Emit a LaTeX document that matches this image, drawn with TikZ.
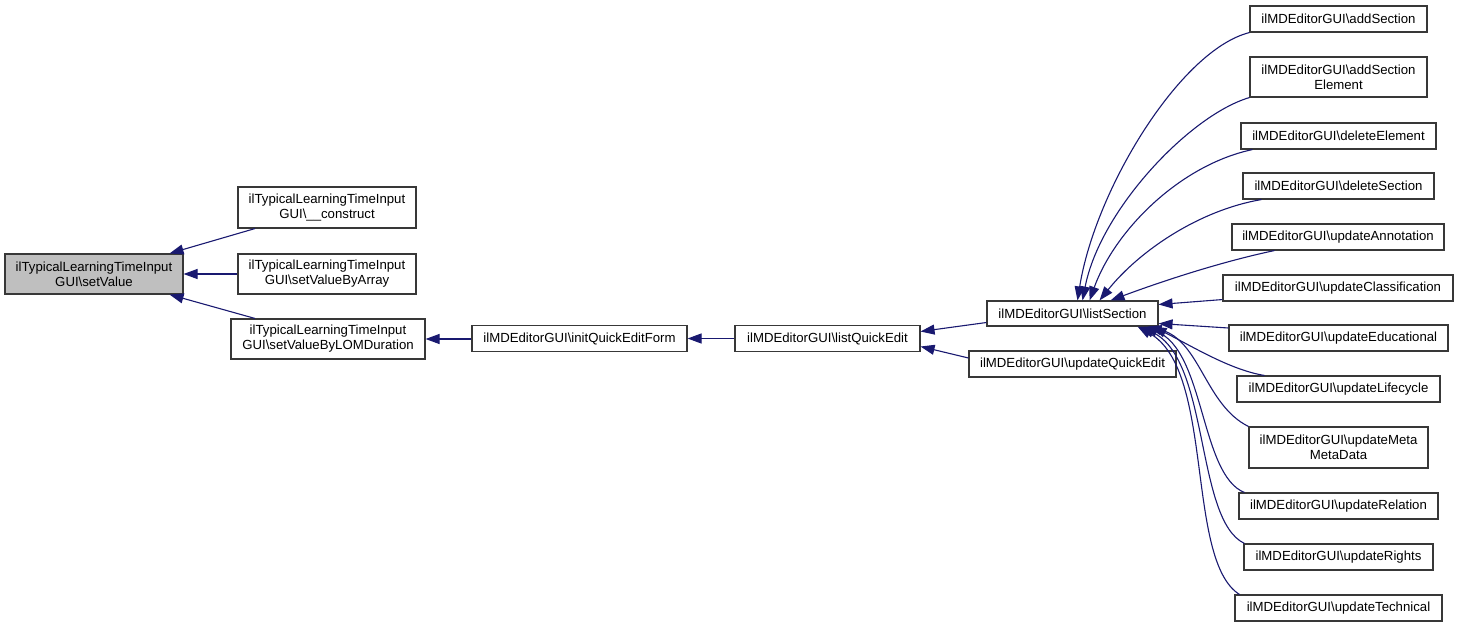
\documentclass[tikz,border=0pt]{standalone}
\usepackage{fontspec}
\setmainfont{Liberation Sans}
\usetikzlibrary{arrows.meta}
\definecolor{edgeblue}{RGB}{25,25,112}
\definecolor{selgray}{RGB}{191,191,191}
\tikzset{
  box/.style={draw=black!78, line width=1.1pt, fill=white, inner sep=0pt, align=center,
    font=\fontsize{13.2}{15}\selectfont},
  edge/.style={draw=edgeblue, line width=1.1pt, arrows={Triangle[length=14pt,width=10pt,fill=edgeblue]-}},
}
\newcommand{\bs}{\textbackslash}
\begin{document}
\begin{tikzpicture}[x=1pt,y=-1pt]
\useasboundingbox (0,0) rectangle (1459,627);
% left part
\node[box, fill=selgray, minimum width=178pt, minimum height=40pt] (sv) at (94,274) {ilTypicalLearningTimeInput\\GUI\bs setValue};
\node[box, minimum width=178pt, minimum height=41pt] (con) at (327,207.5) {ilTypicalLearningTimeInput\\GUI\bs\_\_construct};
\node[box, minimum width=178pt, minimum height=40pt] (arr) at (327,274) {ilTypicalLearningTimeInput\\GUI\bs setValueByArray};
\node[box, minimum width=194pt, minimum height=40pt] (lom) at (328,339) {ilTypicalLearningTimeInput\\GUI\bs setValueByLOMDuration};
\node[box, minimum width=215pt, minimum height=26pt] (iqef) at (579.5,338.5) {ilMDEditorGUI\bs initQuickEditForm};
\node[box, minimum width=185pt, minimum height=26pt] (lqe) at (827.5,338.5) {ilMDEditorGUI\bs listQuickEdit};
\node[box, minimum width=171pt, minimum height=25pt] (ls) at (1072.5,313.5) {ilMDEditorGUI\bs listSection};
\node[box, minimum width=207pt, minimum height=26pt] (uqe) at (1072.5,364) {ilMDEditorGUI\bs updateQuickEdit};
% right column
\node[box, minimum width=177pt, minimum height=26pt] (as) at (1338.5,19) {ilMDEditorGUI\bs addSection};
\node[box, minimum width=177pt, minimum height=40pt] (ase) at (1338.5,77) {ilMDEditorGUI\bs addSection\\Element};
\node[box, minimum width=195pt, minimum height=26pt] (de) at (1338.5,136) {ilMDEditorGUI\bs deleteElement};
\node[box, minimum width=191pt, minimum height=26pt] (ds) at (1338.5,186) {ilMDEditorGUI\bs deleteSection};
\node[box, minimum width=212pt, minimum height=26pt] (ua) at (1338,237) {ilMDEditorGUI\bs updateAnnotation};
\node[box, minimum width=230pt, minimum height=26pt] (uc) at (1338,288) {ilMDEditorGUI\bs updateClassification};
\node[box, minimum width=219pt, minimum height=26pt] (ue) at (1338.5,338) {ilMDEditorGUI\bs updateEducational};
\node[box, minimum width=203pt, minimum height=26pt] (ul) at (1338.5,389) {ilMDEditorGUI\bs updateLifecycle};
\node[box, minimum width=179pt, minimum height=41pt] (um) at (1338.5,447.5) {ilMDEditorGUI\bs updateMeta\\MetaData};
\node[box, minimum width=199pt, minimum height=26pt] (ur) at (1338.5,506) {ilMDEditorGUI\bs updateRelation};
\node[box, minimum width=189pt, minimum height=26pt] (urt) at (1338.5,557) {ilMDEditorGUI\bs updateRights};
\node[box, minimum width=207pt, minimum height=26pt] (ut) at (1338.5,608) {ilMDEditorGUI\bs updateTechnical};
% edges left
\draw[edge] ([xshift=-14pt]sv.north east) -- ([xshift=-72pt]con.south);
\draw[edge] (sv.east) -- (arr.west);
\draw[edge] ([xshift=-14pt]sv.south east) -- ([xshift=-73pt]lom.north);
\draw[edge] (lom.east) -- (lom.east -| iqef.west);
\draw[edge] (iqef.east) -- (lqe.west);
\draw[edge] ([yshift=7pt]lqe.east) -- ([yshift=-9pt]ls.west);
\draw[edge] ([yshift=-8pt]lqe.east) -- ([yshift=6pt]uqe.west);
% edges to listSection, upper
\draw[edge] ([xshift=5pt]ls.north) .. controls (1095,190) and (1180,50) .. (as.south west);
\draw[edge] ([xshift=10pt]ls.north) .. controls (1100,210) and (1190,115) .. (ase.south west);
\draw[edge] ([xshift=17pt]ls.north) .. controls (1115,230) and (1180,165) .. ([xshift=12pt]de.south west);
\draw[edge] ([xshift=27pt]ls.north) .. controls (1140,250) and (1200,210) .. ([xshift=19pt]ds.south west);
\draw[edge] ([xshift=38pt]ls.north) .. controls (1160,282) and (1220,262) .. ([xshift=43pt]ua.south west);
\draw[edge] ([yshift=9pt]ls.east) -- ([yshift=2pt]uc.south west);
\draw[edge] ([yshift=-10pt]ls.east) -- ([yshift=10pt]ue.west);
% lower
\draw[edge] ([xshift=-6pt]ls.south east) .. controls (1190,345) and (1230,370) .. ([xshift=28pt]ul.north west);
\draw[edge] ([xshift=-11pt]ls.south east) .. controls (1200,340) and (1205,405) .. (um.north west);
\draw[edge] ([xshift=-15pt]ls.south east) .. controls (1205,350) and (1200,475) .. ([xshift=6pt]ur.north west);
\draw[edge] ([xshift=-18pt]ls.south east) .. controls (1210,360) and (1195,520) .. ([xshift=1pt]urt.north west);
\draw[edge] ([xshift=-21pt]ls.south east) .. controls (1215,370) and (1185,560) .. ([xshift=5pt]ut.north west);
\end{tikzpicture}
\end{document}
